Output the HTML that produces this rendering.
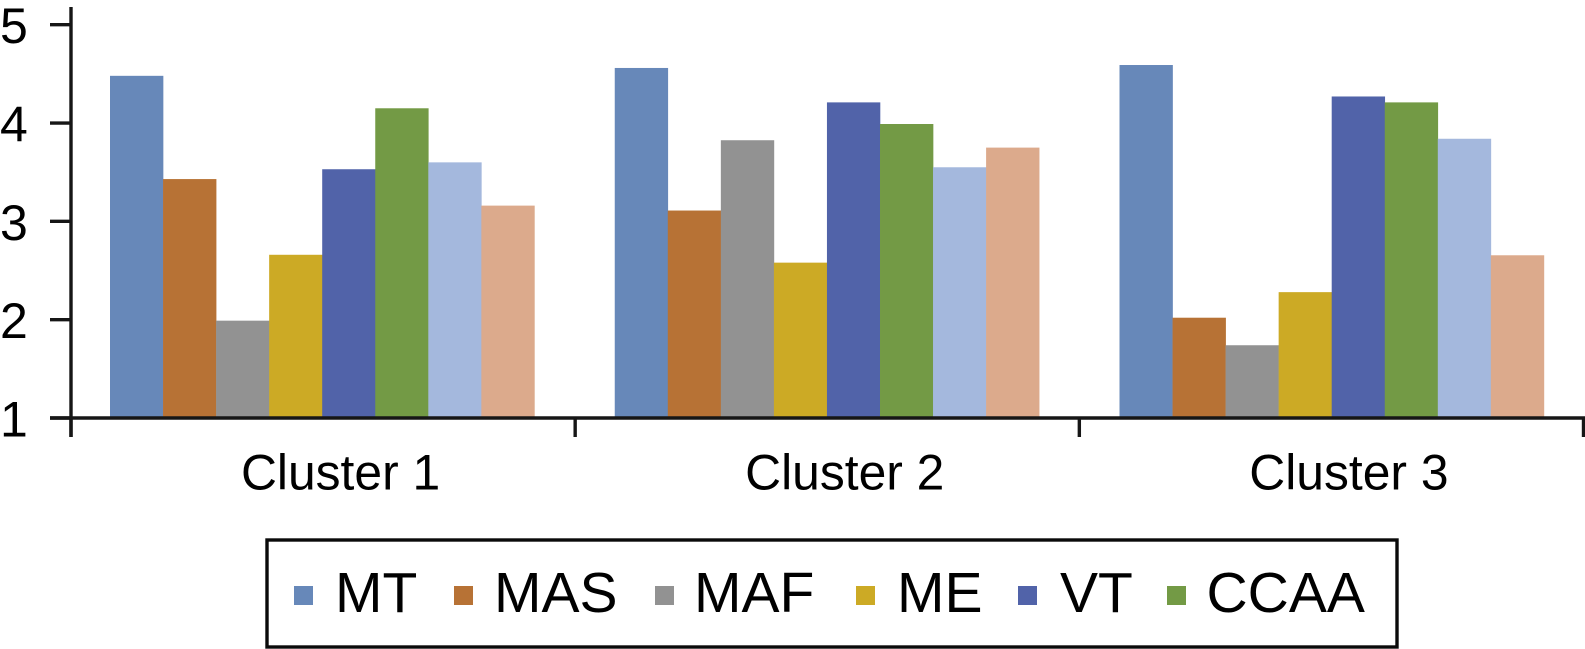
<!DOCTYPE html>
<html lang="en">
<head>
<meta charset="utf-8">
<title>Cluster bar chart</title>
<style>
html,body{margin:0;padding:0;background:#fff;width:1585px;height:649px;overflow:hidden}
svg{display:block}
text{font-family:"Liberation Sans",Arial,sans-serif;fill:#000}
</style>
</head>
<body>
<svg id="chart" xmlns="http://www.w3.org/2000/svg" width="1585" height="649" viewBox="0 0 1585 649">
  <g id="bars"></g>
  <g id="axes"></g>
  <g id="legend">
    <rect x="267" y="540" width="1130" height="107" fill="#fff" stroke="#0a0a0a" stroke-width="3.4"/>
  </g>
</svg>
<script>
const clusters = ['Cluster 1', 'Cluster 2', 'Cluster 3'];
const seriesColors = ['#6788b9', '#b77235', '#929292', '#ccaa25', '#5163a9', '#739a45', '#a4b8dd', '#dcaa8c'];
const mtValues = [4.48, 4.56, 4.59];
const masValues = [3.43, 3.11, 2.02];
const mafValues = [1.99, 3.825, 1.74];
const meValues = [2.66, 2.58, 2.28];
const vtValues = [3.53, 4.21, 4.27];
const ccaaValues = [4.15, 3.99, 4.21];
const series7Values = [3.60, 3.55, 3.84];
const series8Values = [3.16, 3.75, 2.655];
const seriesValues = [mtValues, masValues, mafValues, meValues, vtValues, ccaaValues, series7Values, series8Values];
const seriesNames = ['mt', 'mas', 'maf', 'me', 'vt', 'ccaa', 'series-7', 'series-8'];
const yTicks = [1, 2, 3, 4, 5];
const legendLabels = ['MT', 'MAS', 'MAF', 'ME', 'VT', 'CCAA'];

const NS = 'http://www.w3.org/2000/svg';
const axisLeft = 71, axisRight = 1583.5, y1 = 418, y5 = 24.7;
const clusterW = (axisRight - axisLeft) / clusters.length;
const barStart = 110, barStep = 504.75, barW = 53.05;
const lineW = 3.4;
function yScale(v) { return y1 - (v - 1) * (y1 - y5) / 4; }
function clusterX(i) { return axisLeft + i * clusterW; }
function mk(tag, attrs, parent) {
  const el = document.createElementNS(NS, tag);
  for (const k in attrs) el.setAttribute(k, attrs[k]);
  parent.appendChild(el);
  return el;
}
const barsG = document.getElementById('bars');
const axesG = document.getElementById('axes');
const legendG = document.getElementById('legend');

seriesValues.forEach(function (vals, s) {
  vals.forEach(function (v, c) {
    const r = mk('rect', {
      x: barStart + c * barStep + s * barW,
      y: yScale(v),
      width: barW + 0.3,
      height: y1 - yScale(v),
      fill: seriesColors[s]
    }, barsG);
    
    
  });
});

const yLine = mk('line', { x1: axisLeft, x2: axisLeft, y1: 7, y2: 437, stroke: '#161616', 'stroke-width': lineW }, axesG);


const xLine = mk('line', { x1: 50, x2: 1585, y1: y1, y2: y1, stroke: '#161616', 'stroke-width': lineW }, axesG);



yTicks.forEach(function (t) {
  const tick = mk('line', { x1: 50, x2: axisLeft, y1: yScale(t), y2: yScale(t), stroke: '#161616', 'stroke-width': lineW }, axesG);
  
  
  const lab = mk('text', { x: 0, y: yScale(t) + 18.5, 'font-size': 50 }, axesG);
  lab.textContent = String(t);
  
  
});

for (let i = 0; i <= clusters.length; i++) {
  const tick = mk('line', { x1: clusterX(i), x2: clusterX(i), y1: y1, y2: 437, stroke: '#161616', 'stroke-width': lineW }, axesG);
  
  
}
clusters.forEach(function (name, i) {
  const lab = mk('text', { x: clusterX(i) + clusterW / 2 + 17.5, y: 489.5, 'font-size': 49.8, 'text-anchor': 'middle' }, axesG);
  lab.textContent = name;
  
  
});

const legendSlots = legendLabels.map(function (_, i) { return i; });
const legendOffsets = [[294, 335], [454, 494], [655, 694], [856, 897], [1018, 1060], [1167, 1206.5]];
legendSlots.forEach(function (i) {
  const sw = mk('rect', { x: legendOffsets[i][0], y: 586, width: 19, height: 19, fill: seriesColors[i] }, legendG);
  
  
  const lab = mk('text', { x: legendOffsets[i][1], y: 612, 'font-size': 57 }, legendG);
  lab.textContent = legendLabels[i];
  
  
});
</script>
</body>
</html>
